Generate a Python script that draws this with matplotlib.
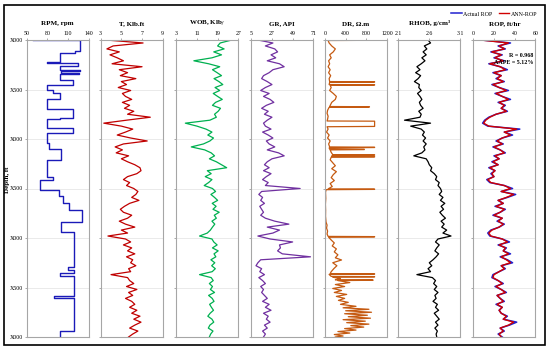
import numpy as np
import matplotlib
matplotlib.use('Agg')
import matplotlib.pyplot as plt
from matplotlib.patches import Rectangle

plt.rcParams['font.family'] = ['Liberation Serif', 'DejaVu Serif']
plt.rcParams['mathtext.fontset'] = 'stix'

# depth grid (ft), 30 ft sampling
depth = np.arange(0, 3001, 30)

# RPM is a stepped curve: interval edges + value per interval
rpm_edges = [0, 5, 107, 135, 220, 236, 262, 300, 315, 330, 345, 400, 450, 500, 535, 600, 700,
             785, 795, 885, 940, 1045, 1105, 1210, 1380, 1415, 1515, 1580, 1650, 1720, 1835,
             1935, 2290, 2320, 2355, 2380, 2590, 2610, 2940, 3000]
rpm_vals = [59, 128, 120, 98, 79, 125, 98, 128, 100, 126, 98, 117, 80, 88, 98, 80,
            117, 98, 79, 117, 80, 82, 100, 80, 88, 70, 97, 103, 112, 130, 100,
            118, 110, 118, 98, 118, 90, 118, 98]

torque = [3.5, 7.1, 4.2, 3.6, 4.8, 3.9, 4.6, 5.2, 4.1, 7.0, 4.8, 5.6, 4.9, 6.4, 5.0, 5.5, 4.7,
          5.9, 5.1, 5.4, 6.0, 5.1, 5.8, 5.3, 6.2, 5.6, 7.8, 5.5, 3.3, 5.0, 6.1, 5.4, 4.6, 5.9,
          7.5, 5.2, 4.4, 5.1, 4.5, 5.7, 5.0, 5.6, 6.3, 6.8, 6.9, 6.5, 5.6, 5.2, 5.8, 5.5, 6.2,
          6.6, 6.4, 6.0, 6.7, 5.8, 5.3, 4.9, 5.2, 6.0, 5.6, 4.8, 5.4, 6.3, 5.0, 5.6, 3.7, 5.4,
          5.9, 5.2, 6.0, 5.6, 6.3, 5.5, 6.1, 5.9, 6.4, 5.7, 5.9, 4.0, 5.6, 5.8, 6.2, 5.5, 6.5,
          5.7, 6.1, 5.4, 6.0, 6.3, 5.8, 6.5, 6.0, 6.8, 6.2, 6.9, 6.3, 5.8, 6.6, 6.1, 5.7]

wob = [24.5, 20.0, 19.0, 21.5, 17.5, 20.5, 16.8, 9.8, 15.5, 19.8, 17.0, 18.8, 20.5, 17.6, 19.5,
       21.0, 18.0, 19.8, 17.3, 19.0, 20.8, 18.2, 17.0, 20.1, 19.2, 17.8, 18.5, 16.0, 6.5, 11.0,
       14.5, 16.8, 15.2, 17.4, 16.0, 13.5, 8.8, 14.0, 16.5, 17.8, 15.8, 18.5, 20.5, 22.5, 15.0,
       16.5, 14.2, 16.8, 15.5, 13.8, 17.0, 18.2, 16.4, 17.8, 19.0, 16.9, 18.4, 17.2, 19.6, 17.7,
       18.5, 16.8, 17.9, 17.0, 16.2, 15.0, 12.0, 16.8, 17.5, 18.8, 17.0, 19.2, 17.6, 18.3, 16.4,
       17.9, 16.7, 18.1, 16.9, 12.0, 16.5, 17.3, 15.8, 17.0, 16.2, 17.8, 15.5, 16.9, 17.6, 15.9,
       16.6, 17.4, 16.1, 15.2, 16.8, 17.5, 16.0, 15.4, 17.2, 16.3, 15.8]

gr = [12, 28, 20, 30, 33, 26, 31, 22, 35, 40, 28, 24, 18, 16, 22, 27, 20, 15, 24, 18, 25, 29,
      21, 16, 23, 19, 27, 22, 18, 20, 26, 17, 23, 28, 21, 24, 30, 22, 34, 40, 27, 22, 19, 24,
      18, 26, 21, 17, 23, 20, 57, 16, 13, 17, 15, 19, 14, 16, 18, 15, 20, 30, 45, 22, 35, 28,
      12, 25, 49, 35, 36, 33, 38, 68, 15, 12, 10, 16, 14, 19, 13, 17, 20, 15, 18, 16, 19, 22,
      17, 24, 20, 26, 18, 23, 21, 25, 19, 22, 17, 20, 18]

rhob = [2.58, 2.62, 2.52, 2.56, 2.50, 2.55, 2.48, 2.53, 2.47, 2.40, 2.45, 2.38, 2.46, 2.42, 2.36,
        2.44, 2.43, 2.47, 2.41, 2.45, 2.48, 2.44, 2.46, 2.50, 2.43, 2.47, 2.45, 2.20, 2.62, 2.30,
        2.47, 2.52, 2.49, 2.54, 2.50, 2.55, 2.51, 2.53, 2.48, 2.35, 2.55, 2.58, 2.60, 2.64, 2.62,
        2.68, 2.72, 2.70, 2.76, 2.74, 2.78, 2.80, 2.76, 2.82, 2.78, 2.85, 2.79, 2.83, 2.77, 2.81,
        2.86, 2.79, 2.84, 2.80, 2.88, 2.82, 2.95, 2.74, 2.70, 2.76, 2.72, 2.69, 2.75, 2.71, 2.66,
        2.60, 2.64, 2.58, 2.62, 2.40, 2.65, 2.70, 2.67, 2.72, 2.68, 2.74, 2.69, 2.71, 2.66, 2.73,
        2.70, 2.75, 2.68, 2.72, 2.76, 2.70, 2.74, 2.69, 2.73, 2.71, 2.72]

rop_actual = [8, 36, 24, 31, 17, 28, 20, 30, 15, 26, 33, 19, 27, 22, 30, 18, 25, 34, 21, 28, 36,
              24, 31, 27, 33, 22, 15, 11, 9, 14, 45, 30, 38, 28, 22, 29, 19, 26, 31, 20, 25, 18,
              24, 15, 21, 17, 20, 13, 16, 30, 38, 27, 41, 33, 24, 29, 21, 31, 26, 19, 28, 23, 30,
              25, 17, 14, 16, 28, 35, 24, 32, 29, 36, 26, 33, 38, 27, 31, 25, 19, 18, 24, 29, 21,
              27, 32, 23, 26, 30, 22, 28, 25, 27, 33, 29, 42, 35, 26, 30, 24, 28]

rop_ann = [7, 34, 25, 30, 18, 27, 21, 29, 16, 26, 31, 20, 27, 23, 29, 19, 25, 32, 22, 28, 34,
           25, 30, 27, 32, 22, 16, 12, 10, 15, 42, 30, 36, 28, 23, 28, 20, 26, 30, 21, 25, 19,
           24, 16, 21, 18, 20, 14, 17, 30, 36, 27, 39, 32, 24, 29, 22, 30, 26, 20, 28, 24, 29,
           25, 18, 15, 17, 28, 33, 25, 31, 29, 34, 27, 32, 36, 27, 30, 25, 20, 19, 24, 28, 22,
           27, 31, 23, 26, 29, 23, 28, 25, 27, 32, 29, 39, 34, 26, 29, 25, 27]

# deep resistivity, irregular depths (spikes are narrow intervals)
dr_depth = [0, 3, 5, 30, 60, 90, 120, 150, 180, 210, 240, 270, 300, 330, 360, 390, 420, 422, 425,
            428, 450, 452, 455, 458, 480, 510, 540, 570, 600, 630, 660, 672, 674, 677, 680, 710,
            740, 770, 800, 818, 820, 873, 876, 900, 930, 960, 990, 1020, 1050, 1080, 1083, 1086,
            1090, 1102, 1104, 1107, 1110, 1135, 1158, 1160, 1163, 1166, 1176, 1178, 1181, 1184,
            1210, 1240, 1270, 1300, 1330, 1360, 1390, 1420, 1450, 1480, 1504, 1506, 1509, 1512,
            1540, 1600, 1660, 1720, 1780, 1840, 1870, 1900, 1930, 1960, 1984, 1986, 1989, 1992,
            2020, 2050, 2080, 2110, 2140, 2170, 2200, 2222, 2250, 2280, 2310, 2340, 2360, 2362,
            2365, 2368, 2388, 2390, 2393, 2396, 2410, 2422, 2424, 2427, 2430, 2450, 2470, 2490,
            2510, 2530, 2550, 2570, 2590, 2610, 2630, 2650, 2670, 2690, 2705, 2720, 2735, 2750,
            2765, 2780, 2795, 2810, 2825, 2840, 2855, 2870, 2885, 2900, 2915, 2930, 2945, 2960,
            2975, 2990, 3000]
dr_value = [950, 950, 60, 80, 130, 200, 160, 90, 120, 70, 90, 60, 100, 70, 110, 80, 90, 960, 960,
            90, 80, 960, 960, 100, 120, 90, 160, 220, 200, 130, 100, 90, 860, 860, 80, 50,
            40, 60, 50, 40, 960, 960, 40, 60, 30, 80, 50, 100, 70, 90, 960, 960,
            80, 90, 760, 760, 100, 120, 150, 960, 960, 140, 130, 960, 960, 120,
            100, 150, 200, 130, 220, 160, 120, 180, 100, 140, 60, 960, 960, 20,
            10, 15, 8, 12, 10, 20, 40, 30, 50, 40, 60, 960, 960, 70,
            120, 180, 140, 220, 180, 250, 200, 320, 150, 230, 170, 120, 100, 960,
            960, 80, 120, 960, 960, 150, 300, 200, 930, 930, 250, 480, 200, 380,
            150, 320, 180, 420, 220, 380, 260, 450, 300, 600, 350, 850, 400, 900,
            380, 820, 450, 880, 350, 780, 420, 850, 500, 750, 380, 600, 250, 480,
            180, 350, 200]

depth_ticks = [0, 500, 1000, 1500, 2000, 2500, 3000]
depth_labels = ['X000', 'X500', 'X000', 'X500', 'X000', 'X500', 'X000']

tracks = [
    ('RPM, rpm', (50, 140), [50, 80, 110, 140]),
    ('T, Klb.ft', (3, 9), [3, 5, 7, 9]),
    ('WOB, Klb$_f$', (3, 27), [3, 11, 19, 27]),
    ('GR, API', (5, 71), [5, 27, 49, 71]),
    ('DR, Ω.m', (0, 1200), [0, 400, 800, 1200]),
    ('RHOB, g/cm³', (2.1, 3.1), [2.1, 2.6, 3.1]),
    ('ROP, ft/hr', (0, 60), [0, 20, 40, 60]),
]
lefts = [26.7, 100.7, 176.3, 251.3, 325.0, 398.3, 473.3]
W, H = 550, 352

fig = plt.figure(figsize=(5.5, 3.52), dpi=100)
axes = []
for i, (title, lim, ticks) in enumerate(tracks):
    ax = fig.add_axes([lefts[i] / W, 1 - 337 / H, 62 / W, 297 / H])
    ax.set_xlim(*lim)
    ax.set_ylim(3000, 0)
    ax.set_xticks(ticks)
    ax.xaxis.tick_top()
    ax.set_yticks(depth_ticks)
    ax.tick_params(axis='both', labelsize=4.2, length=1.5, width=0.5, color='#888888', pad=1.2)
    if i == 0:
        ax.set_yticklabels(depth_labels)
    else:
        ax.set_yticklabels([])
    ax.grid(True, axis='y', color='#e6e6e6', linewidth=0.6)
    ax.set_axisbelow(True)
    for s in ax.spines.values():
        s.set_color('#a6a6a6')
        s.set_linewidth(0.8)
    fig.text((lefts[i] + 31) / W, 1 - 25 / H, title, ha='center', va='baseline',
             fontsize=5, fontweight='bold')
    axes.append(ax)

fig.text(8 / W, 1 - 180 / H, 'Depth, ft', rotation=90, ha='center', va='center',
         fontsize=5, fontweight='bold')

# RPM drawn as steps
rpm_y = np.repeat(rpm_edges, 2)[1:-1]
rpm_x = np.repeat(rpm_vals, 2)
axes[0].plot(rpm_x, rpm_y, color='#1a1ab8', linewidth=1.0)
axes[1].plot(torque, depth, color='#c00000', linewidth=0.9)
axes[2].plot(wob, depth, color='#00b050', linewidth=0.9)
axes[3].plot(gr, depth, color='#7030a0', linewidth=0.9)
axes[4].plot(dr_value, dr_depth, color='#c55a11', linewidth=0.9)
axes[5].plot(rhob, depth, color='black', linewidth=0.9)
l1, = axes[6].plot(rop_actual, depth, color='#2020d0', linewidth=1.1, label='Actual ROP')
l2, = axes[6].plot(rop_ann, depth, color='#d00000', linewidth=1.0, label='ANN-ROP')
axes[6].text(0.97, 0.955, 'R = 0.968\nAAPE = 5.12%', transform=axes[6].transAxes,
             ha='right', va='top', fontsize=4.3, fontweight='bold', linespacing=1.3)

fig.legend(handles=[l1, l2], loc='upper right', bbox_to_anchor=(543 / W, 1 - 6 / H),
           ncol=2, frameon=False, fontsize=4.3, handlelength=1.8, columnspacing=1.0,
           handletextpad=0.3)

fig.add_artist(Rectangle((4 / W, 1 - 345 / H), 541 / W, 340 / H, transform=fig.transFigure,
                         fill=False, edgecolor='black', linewidth=1.2))

fig.savefig('out.png', dpi=100)
